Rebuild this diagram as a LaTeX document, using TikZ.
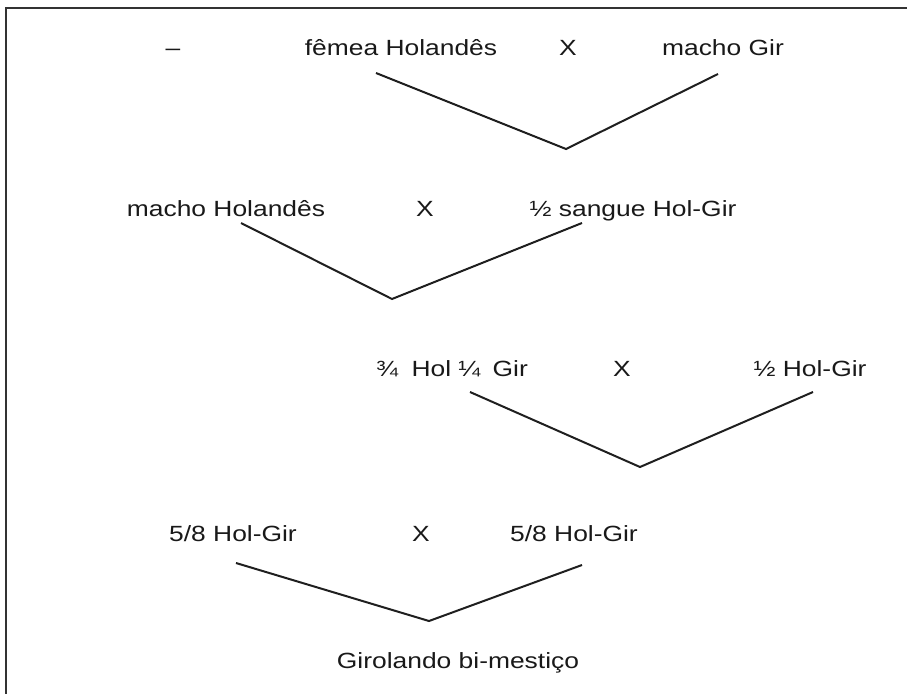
\documentclass[tikz,border=0pt]{standalone}
\usepackage{fontspec}
\setmainfont{Liberation Sans}
\begin{document}
\begin{tikzpicture}[x=1pt,y=-1pt,
  lbl/.style={font=\fontsize{22}{26}\selectfont, inner sep=0pt, anchor=base, xscale=1.2, text=black!90},
  vline/.style={line width=2pt, draw=black!88, line join=miter},
  framel/.style={line width=2pt, draw=black!80}]
\useasboundingbox (0,0) rectangle (907,694);
% frame
\coordinate (ftl) at (6,8);
\coordinate (ftr) at (907,8);
\coordinate (fbl) at (6,694);
\draw[framel] (ftr) -- (ftl) -- (fbl);
% row 1
\node[lbl] (dash) at (173,55) {–};
\node[lbl] (femea) at (401,55) {fêmea Holandês};
\node[lbl] (x1) at (568,55) {X};
\node[lbl] (machogir) at (723,55) {macho Gir};
% row 2
\node[lbl] (machohol) at (226,216) {macho Holandês};
\node[lbl] (x2) at (425,216) {X};
\node[lbl] (meio) at (633,216) {½ sangue Hol-Gir};
% row 3
\node[lbl] (tresq) at (452,376) {¾\hspace{5pt} Hol ¼\hspace{4pt} Gir};
\node[lbl] (x3) at (622,376) {X};
\node[lbl] (meio2) at (810,376) {½ Hol-Gir};
% row 4
\node[lbl] (cincoa) at (233,541) {5/8 Hol-Gir};
\node[lbl] (x4) at (421,541) {X};
\node[lbl] (cincob) at (574,541) {5/8 Hol-Gir};
% row 5
\node[lbl] (giro) at (458,668) {Girolando bi-mestiço};
% V connectors
\coordinate (v1l) at (376,73); \coordinate (v1b) at (566,149); \coordinate (v1r) at (718,74);
\coordinate (v2l) at (241,223); \coordinate (v2b) at (392,299); \coordinate (v2r) at (582,223);
\coordinate (v3l) at (470,392); \coordinate (v3b) at (640,467); \coordinate (v3r) at (813,392);
\coordinate (v4l) at (236,563); \coordinate (v4b) at (429,621); \coordinate (v4r) at (582,565);
\draw[vline] (v1l) -- (v1b) -- (v1r);
\draw[vline] (v2l) -- (v2b) -- (v2r);
\draw[vline] (v3l) -- (v3b) -- (v3r);
\draw[vline] (v4l) -- (v4b) -- (v4r);
\end{tikzpicture}
\end{document}
